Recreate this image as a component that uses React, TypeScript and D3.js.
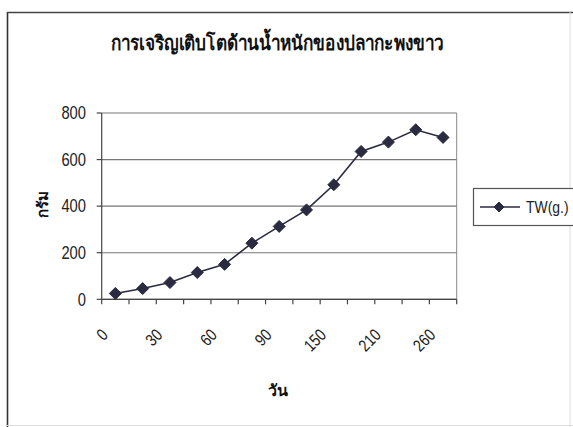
import React from "react";
import * as d3 from "d3";

const days = ["0", "15", "30", "45", "60", "75", "90", "120", "150", "180", "210", "240", "260"];
const weights = [25, 46, 72, 115, 150, 241, 313, 384, 492, 635, 675, 728, 695];
const yTicks = [0, 200, 400, 600, 800];
const title = "การเจริญเติบโตด้านน้ำหนักของปลากะพงขาว";
const xTitle = "วัน";
const yTitle = "กรัม";
const seriesName = "TW(g.)";

const W = 573;
const H = 427;
const plot = { left: 101.7, right: 456.7, top: 113, bottom: 299.3 };
const numFont = "'Liberation Sans', Arial, sans-serif";
const thaiFont = "'Noto Sans', 'DejaVu Sans', sans-serif";
const ink = "#2a2a40";
const narrow = 0.82;

function Diamond({ x, y, r }: { x: number; y: number; r: number }) {
  return <path d={`M${x},${y - r}L${x + r},${y}L${x},${y + r}L${x - r},${y}Z`} fill={ink} stroke={ink} strokeWidth={1} />;
}

export default function App() {
  const x = d3.scaleBand<string>().domain(days).range([plot.left, plot.right]).padding(0);
  const y = d3.scaleLinear().domain([0, 800]).range([plot.bottom, plot.top]);
  const cx = (d: string) => (x(d) ?? 0) + x.bandwidth() / 2;
  const line = d3
    .line<number>()
    .x((_, i) => cx(days[i]))
    .y((v) => y(v));
  const tickEdges = days.map((d) => x(d) ?? 0).concat([plot.right]);

  return (
    <svg width={W} height={H} style={{ position: "absolute", left: 0, top: 0, background: "#fff" }}>
      {/* outer frame */}
      <line x1={7.5} x2={7.5} y1={12} y2={427} stroke="#333" strokeWidth={1.6} />
      <line x1={7} x2={573} y1={12.5} y2={12.5} stroke="#444" strokeWidth={1.3} />
      <line x1={570} x2={570} y1={12} y2={427} stroke="#ddd" strokeWidth={1} />
      <line x1={7} x2={573} y1={425.5} y2={425.5} stroke="#ddd" strokeWidth={1} />
      {/* title */}
      <text transform={`translate(277,50) scale(0.86,1)`} textAnchor="middle" fontFamily={thaiFont} fontWeight="bold" fontSize={20} fill="#111">
        {title}
      </text>
      {/* gridlines */}
      {yTicks.map((t) => (
        <line key={t} x1={plot.left} x2={plot.right} y1={y(t)} y2={y(t)} stroke="#777" strokeWidth={1.2} />
      ))}
      {/* plot border right */}
      <line x1={plot.right} x2={plot.right} y1={plot.top} y2={plot.bottom} stroke="#888" strokeWidth={1} />
      {/* y axis */}
      <line x1={plot.left} x2={plot.left} y1={plot.top} y2={plot.bottom} stroke="#444" strokeWidth={1.2} />
      {yTicks.map((t) => (
        <g key={t}>
          <line x1={plot.left - 5} x2={plot.left} y1={y(t)} y2={y(t)} stroke="#444" strokeWidth={1.2} />
          <text transform={`translate(86,${y(t)}) scale(${narrow},1)`} dy="0.35em" textAnchor="end" fontFamily={numFont} fontSize={18} fill="#222">
            {t}
          </text>
        </g>
      ))}
      {/* x axis */}
      <line x1={plot.left} x2={plot.right} y1={plot.bottom} y2={plot.bottom} stroke="#444" strokeWidth={1.2} />
      {tickEdges.map((e, i) => (
        <line key={i} x1={e} x2={e} y1={plot.bottom} y2={plot.bottom + 5} stroke="#444" strokeWidth={1.2} />
      ))}
      {days.map((d, i) =>
        i % 2 === 0 ? (
          <text
            key={d}
            transform={`translate(${cx(d) - 6.5},${336}) rotate(-45) scale(${narrow},1)`}
            textAnchor="end"
            fontFamily={numFont}
            fontSize={17}
            fill="#222"
          >
            {d}
          </text>
        ) : null
      )}
      {/* axis titles */}
      <text x={278} y={396} textAnchor="middle" fontFamily={thaiFont} fontWeight="bold" fontSize={16} fill="#111">
        {xTitle}
      </text>
      <text transform={`translate(48,204) rotate(-90)`} textAnchor="middle" fontFamily={thaiFont} fontWeight="bold" fontSize={15} fill="#111">
        {yTitle}
      </text>
      {/* series */}
      <path d={line(weights) ?? ""} fill="none" stroke={ink} strokeWidth={1.6} />
      {weights.map((v, i) => (
        <Diamond key={i} x={cx(days[i])} y={y(v)} r={6} />
      ))}
      {/* legend */}
      <rect x={473.5} y={188.5} width={105} height={37} fill="#fff" stroke="#555" strokeWidth={1.2} />
      <line x1={480} x2={520} y1={207} y2={207} stroke={ink} strokeWidth={1.6} />
      <Diamond x={499} y={207} r={5} />
      <text transform={`translate(526,207) scale(${narrow},1)`} dy="0.35em" fontFamily={numFont} fontSize={17} fill="#222">
        {seriesName}
      </text>
    </svg>
  );
}
